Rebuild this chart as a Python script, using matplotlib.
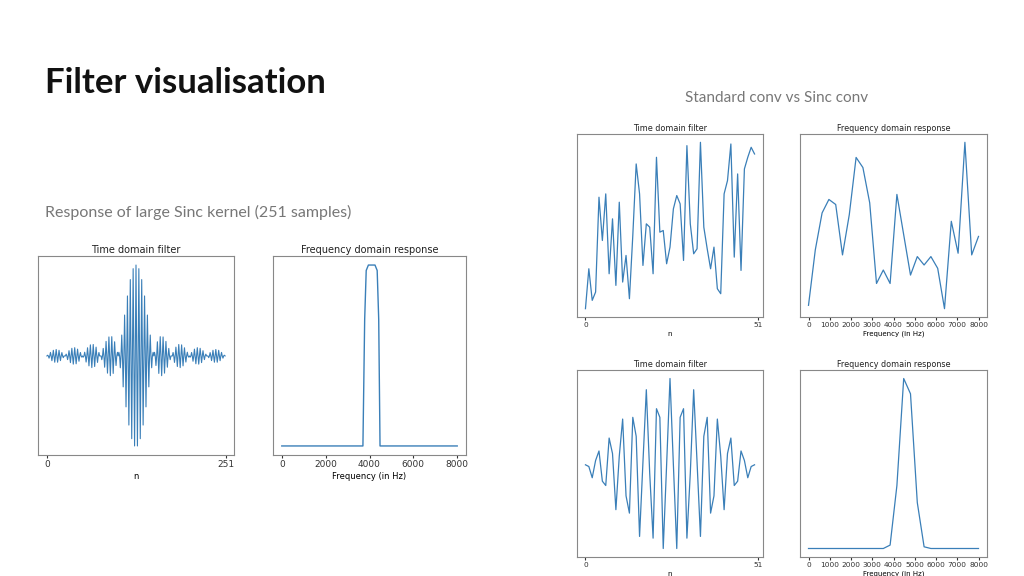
import matplotlib
matplotlib.use("Agg")
import matplotlib.pyplot as plt

# Large sinc kernel: right half (offset 0..125 from centre), mirrored for the left half
sinc_half = [1.0, 0, -0.99, 0, 0.96, 0, -0.91, 0, 0.84, 0, -0.76, 0, 0.66, 0, -0.56, 0,
             0.45, 0, -0.34, 0, 0.23, 0, -0.13, 0, 0.04, 0, 0.04, 0, -0.105, 0, 0.156, 0,
             -0.192, 0, 0.212, 0, -0.217, 0, 0.209, 0, -0.189, 0, 0.16, 0, -0.124, 0, 0.083, 0,
             -0.041, 0, 0.0, 0, 0.038, 0, -0.071, 0, 0.097, 0, -0.116, 0, 0.126, 0, -0.128, 0,
             0.122, 0, -0.109, 0, 0.09, 0, -0.067, 0, 0.041, 0, -0.013, 0, -0.013, 0, 0.038, 0,
             -0.058, 0, 0.075, 0, -0.086, 0, 0.091, 0, -0.09, 0, 0.084, 0, -0.073, 0, 0.058, 0,
             -0.04, 0, 0.02, 0, 0.0, 0, -0.019, 0, 0.037, 0, -0.051, 0, 0.062, 0, -0.069, 0,
             0.071, 0, -0.069, 0, 0.062, 0, -0.052, 0, 0.039, 0, -0.024, 0, 0.008, 0]
sinc_kernel = sinc_half[:0:-1] + sinc_half
large_freq = [0, 3700, 3780, 3850, 3950, 4250, 4350, 4420, 4480, 8000]
large_resp = [0, 0, 0.7, 0.97, 1.0, 1.0, 0.97, 0.7, 0, 0]

std_time = [0, .24, .05, .10, .67, .41, .69, .21, .54, .14, .64, .16, .32, .06, .44, .87, .69,
            .26, .51, .49, .21, .91, .46, .47, .27, .37, .60, .68, .63, .29, .98, .51, .33, .36,
            1.0, .49, .36, .24, .37, .12, .09, .69, .77, .99, .31, .81, .23, .84, .91, .97, .93]
freq26 = [0, 320, 640, 960, 1280, 1600, 1920, 2240, 2560, 2880, 3200, 3520, 3840, 4160, 4480,
          4800, 5120, 5440, 5760, 6080, 6400, 6720, 7040, 7360, 7680, 8000]
std_resp = [.02, .35, .57, .65, .62, .32, .56, .90, .84, .63, .15, .23, .15, .68, .44, .20,
            .31, .26, .31, .24, 0, .52, .33, .99, .32, .43]

sinc_small_half = [0, -0.02, -0.15, 0.05, 0.16, -0.19, -0.24, 0.31, 0.13, -0.52, 0.10, 0.53,
                   -0.36, -0.56, 0.55, 0.33, -0.83, 0.03, 0.87, -0.1, -0.85, 0.65, 0.55, -0.97,
                   0.0, 1.0]
sinc_small = sinc_small_half + sinc_small_half[-2::-1]
sinc_resp = [0, 0, 0, 0, 0, 0, 0, 0, 0, 0, 0, 0, .02, .37, 1.0, .91, .27, .01, 0, 0, 0, 0, 0, 0, 0, 0]

W, H = 1024, 576
fig = plt.figure(figsize=(W / 100, H / 100), dpi=100)
fig.patch.set_facecolor("white")

def ax_at(x0, y0, x1, y1):
    return fig.add_axes([x0 / W, 1 - y1 / H, (x1 - x0) / W, (y1 - y0) / H])

def style(ax, title, fs):
    ax.set_title(title, fontsize=fs + 0.5, pad=2, color="#222222")
    ax.set_yticks([])
    ax.tick_params(labelsize=fs, length=2, pad=1.5, colors="#333333")
    for s in ax.spines.values():
        s.set_color("#888888")
        s.set_linewidth(0.8)

col = "#3a7fb8"
fig.text(45, 0, "", )
fig.text(45 / W, 1 - 83 / H, "Filter visualisation", fontsize=25, fontweight="bold",
         family="Lato", va="center", color="#111111")
fig.text(685 / W, 1 - 98 / H, "Standard conv vs Sinc conv", fontsize=11, family="Lato",
         va="center", color="#777777")
fig.text(45 / W, 1 - 212 / H, "Response of large Sinc kernel (251 samples)", fontsize=11.5,
         family="Lato", va="center", color="#777777")

a = ax_at(38, 256, 234, 455)
a.plot(range(len(sinc_kernel)), sinc_kernel, color=col, lw=0.8)
a.set_xticks([0, 251]); a.set_xlabel("n", fontsize=6, labelpad=2)
style(a, "Time domain filter", 6.5)

a = ax_at(273, 256, 466, 455)
a.plot(large_freq, large_resp, color=col, lw=1)
a.set_xticks([0, 2000, 4000, 6000, 8000]); a.set_xlabel("Frequency (in Hz)", fontsize=6, labelpad=2)
style(a, "Frequency domain response", 6.5)

a = ax_at(577, 134, 763, 317)
a.plot(range(len(std_time)), std_time, color=col, lw=0.9)
a.set_xticks([0, 51]); a.set_xlabel("n", fontsize=5, labelpad=2)
style(a, "Time domain filter", 5.3)

a = ax_at(800, 134, 987, 317)
a.plot(freq26, std_resp, color=col, lw=0.9)
a.set_xticks(range(0, 8001, 1000)); a.set_xlabel("Frequency (in Hz)", fontsize=5, labelpad=2)
style(a, "Frequency domain response", 5.3)

a = ax_at(577, 370, 763, 557)
a.plot(range(len(sinc_small)), sinc_small, color=col, lw=0.9)
a.set_xticks([0, 51]); a.set_xlabel("n", fontsize=5, labelpad=2)
style(a, "Time domain filter", 5.3)

a = ax_at(800, 370, 987, 557)
a.plot(freq26, sinc_resp, color=col, lw=0.9)
a.set_xticks(range(0, 8001, 1000)); a.set_xlabel("Frequency (in Hz)", fontsize=5, labelpad=2)
style(a, "Frequency domain response", 5.3)

fig.savefig("out.png", dpi=100, facecolor="white")
